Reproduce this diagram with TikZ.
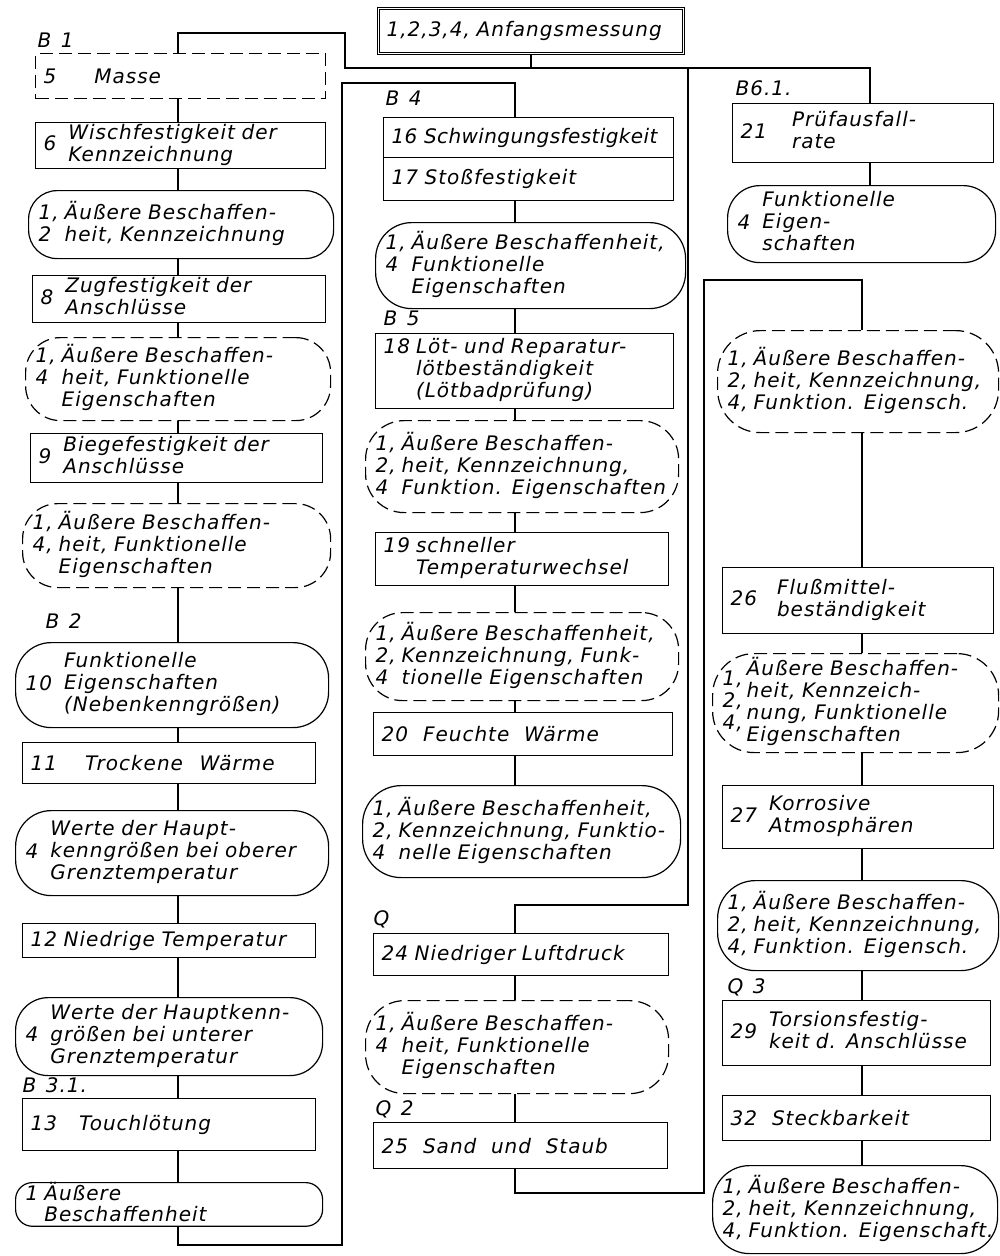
\documentclass[tikz,border=0pt]{standalone}
\usepackage{fontspec}
\setmainfont{DejaVu Sans}[LetterSpace=5, WordSpace=1.3]

\newcommand\numtext[3][12pt]{#2\hspace{#1}\begin{tabular}{@{}l@{}}#3\end{tabular}}
\newcommand\numlines[1]{\begin{tabular}{@{}l@{\hspace{6pt}}l@{}}#1\end{tabular}}

\tikzset{
  test/.style 2 args={draw, anchor=north west, inner xsep=8pt, inner ysep=0pt,
    align=left, text width={#1pt-16pt}, minimum height=#2pt},
  check/.style 2 args={test={#1}{#2}, inner xsep=10pt, text width={#1pt-20pt},
    rounded corners={0.42*#2pt}},
  broken/.style={dash pattern=on 13pt off 6pt},
  tag/.style={anchor=base west, inner sep=0pt},
  link/.style={line width=1.4pt}
}

\begin{document}
\begin{tikzpicture}[x=1pt, y=-1pt, font=\fontsize{20}{22}\selectfont\itshape, line width=1.2pt]
\useasboundingbox (0,0) rectangle (1000,1256);

% columns and corners of the lines
\coordinate (cL) at (178,0);
\coordinate (cM) at (515,0);
\coordinate (cR) at (862,0);
\coordinate (cB) at (870,0);
\coordinate (kL) at (345,33);
\coordinate (bus) at (345,68);
\coordinate (busR) at (870,68);
\coordinate (mR) at (688,905);
\coordinate (lowL) at (342,1245);
\coordinate (topM) at (342,83);
\coordinate (lowM) at (704,1193);
\coordinate (topR) at (704,280);

\node[test={305}{45}, double, double distance=1.2pt] (0) at (378,8) {1,2,3,4, Anfangsmessung};

% left column
\node[tag] (b1) at (37,47) {B 1};
\node[test={290}{45}, broken] (5) at (35,53) {5\hspace{38pt}Masse};
\node[test={290}{46}] (6) at (35,122) {\numtext{6}{Wischfestigkeit der\\Kennzeichnung}};
\node[check={305}{68}] (e6) at (28,190) {\numlines{1, & Äußere Beschaffen-\\2 & heit, Kennzeichnung}};
\node[test={293}{47}] (8) at (32,275) {\numtext{8}{Zugfestigkeit der\\Anschlüsse}};
\node[check={305}{83}, broken] (e8) at (25,337) {\numlines{1, & Äußere Beschaffen-\\4 & heit, Funktionelle\\ & Eigenschaften}};
\node[test={292}{49}] (9) at (30,433) {\numtext{9}{Biegefestigkeit der\\Anschlüsse}};
\node[check={308}{84}, broken] (e9) at (22,503) {\numlines{1, & Äußere Beschaffen-\\4, & heit, Funktionelle\\ & Eigenschaften}};
\node[tag] (b2) at (45,628) {B 2};
\node[check={313}{85}] (10) at (15,642) {\numtext{10}{Funktionelle\\Eigenschaften\\(Nebenkenngrößen)}};
\node[test={293}{41}] (11) at (22,742) {11\hspace{28pt}Trockene\hspace{10pt} Wärme};
\node[check={313}{85}] (e11) at (15,810) {\numtext{4}{Werte der Haupt-\\kenngrößen bei oberer\\Grenztemperatur}};
\node[test={293}{34}] (12) at (22,923) {12 Niedrige Temperatur};
\node[check={307}{78}] (e12) at (15,997) {\numtext{4}{Werte der Hauptkenn-\\größen bei unterer\\Grenztemperatur}};
\node[tag] (b31) at (22,1092) {B 3.1.};
\node[test={293}{52}] (13) at (22,1098) {13\hspace{22pt}Touchlötung};
\node[check={307}{40}, font=\fontsize{20}{17}\selectfont\itshape] (e13) at (15,1182) {\numlines{1 & Äußere\\ & Beschaffenheit}};

% middle column
\node[tag] (b4) at (385,105) {B 4};
\node[test={290}{40}] (16) at (383,117) {\mbox{\addfontfeature{LetterSpace=2}16 Schwingungsfestigkeit}};
\node[test={290}{43}] (17) at (383,157) {17 Stoßfestigkeit};
\node[check={310}{86}] (e17) at (375,222) {\numlines{1, & Äußere Beschaffenheit,\\4 & Funktionelle\\ & Eigenschaften}};
\node[tag] (b5) at (383,325) {B 5};
\node[test={298}{75}] (18) at (375,333) {\numlines{18 & Löt- und Reparatur-\\ & lötbeständigkeit\\ & (Lötbadprüfung)}};
\node[check={313}{92}, broken] (e18) at (365,420) {\numlines{1, & Äußere Beschaffen-\\2, & heit, Kennzeichnung,\\4 & Funktion. Eigenschaften}};
\node[test={293}{53}] (19) at (375,532) {\numlines{19 & schneller\\ & Temperaturwechsel}};
\node[check={313}{88}, broken] (e19) at (365,612) {\numlines{1, & Äußere Beschaffenheit,\\2, & Kennzeichnung, Funk-\\4 & tionelle Eigenschaften}};
\node[test={299}{43}] (20) at (373,712) {20\hspace{15pt}Feuchte\hspace{8pt} Wärme};
\node[check={318}{92}] (e20) at (362,785) {\numlines{1, & Äußere Beschaffenheit,\\2, & Kennzeichnung, Funktio-\\4 & nelle Eigenschaften}};
\node[tag] (q) at (373,925) {Q};
\node[test={295}{42}] (24) at (373,933) {24 Niedriger Luftdruck};
\node[check={303}{93}, broken] (e24) at (365,1000) {\numlines{1, & Äußere Beschaffen-\\4 & heit, Funktionelle\\ & Eigenschaften}};
\node[tag] (q2) at (375,1115) {Q 2};
\node[test={294}{46}] (25) at (373,1122) {25\hspace{15pt}Sand\hspace{8pt} und\hspace{8pt} Staub};

% right column
\node[tag] (b61) at (735,95) {B6.1.};
\node[test={261}{59}] (21) at (732,103) {\numtext[25pt]{21}{Prüfausfall-\\rate}};
\node[check={268}{77}] (e21) at (727,185) {\numtext{4}{Funktionelle\\Eigen-\\schaften}};
\node[check={281}{102}, broken] (e21b) at (717,330) {\numlines{1, & Äußere Beschaffen-\\2, & heit, Kennzeichnung,\\4, & Funktion. Eigensch.}};
\node[test={271}{66}] (26) at (722,567) {\numtext[20pt]{26}{Flußmittel-\\beständigkeit}};
\node[check={286}{99}, broken] (e26) at (712,653) {\numtext[4pt]{\begin{tabular}{@{}l@{}}1,\\2,\\4,\end{tabular}}{Äußere Beschaffen-\\heit, Kennzeich-\\nung, Funktionelle\\Eigenschaften}};
\node[test={271}{63}] (27) at (722,785) {\numtext{27}{Korrosive\\Atmosphären}};
\node[check={281}{90}] (e27) at (717,880) {\numlines{1, & Äußere Beschaffen-\\2, & heit, Kennzeichnung,\\4, & Funktion. Eigensch.}};
\node[tag] (q3) at (727,993) {Q 3};
\node[test={268}{65}] (29) at (722,1000) {\numtext{29}{Torsionsfestig-\\keit d. Anschlüsse}};
\node[test={268}{45}] (32) at (722,1095) {32\hspace{15pt}Steckbarkeit};
\node[check={285}{88}] (e32) at (712,1165) {\numlines{1, & Äußere Beschaffen-\\2, & heit, Kennzeichnung,\\4, & Funktion. Eigenschaft.}};

% start and bus
\path[draw,link] (0.south) -- (0.south |- bus);
\path[draw,link] (5.north -| cL) |- (kL) -- (bus) -- (busR) -- (21.north -| cB);
\path[draw,link] (bus -| mR) -- (mR) -| (24.north -| cM);
\path[draw,link] (e13.south -| cL) |- (lowL) -- (topM) -| (16.north -| cM);
\path[draw,link] (25.south -| cM) |- (lowM) -- (topR) -| (e21b.north -| cR);

\path[draw,link] (5.south -| cL) -- (6.north -| cL);
\path[draw,link] (6.south -| cL) -- (e6.north -| cL);
\path[draw,link] (e6.south -| cL) -- (8.north -| cL);
\path[draw,link] (8.south -| cL) -- (e8.north -| cL);
\path[draw,link] (e8.south -| cL) -- (9.north -| cL);
\path[draw,link] (9.south -| cL) -- (e9.north -| cL);
\path[draw,link] (e9.south -| cL) -- (10.north -| cL);
\path[draw,link] (10.south -| cL) -- (11.north -| cL);
\path[draw,link] (11.south -| cL) -- (e11.north -| cL);
\path[draw,link] (e11.south -| cL) -- (12.north -| cL);
\path[draw,link] (12.south -| cL) -- (e12.north -| cL);
\path[draw,link] (e12.south -| cL) -- (13.north -| cL);
\path[draw,link] (13.south -| cL) -- (e13.north -| cL);

\path[draw,link] (17.south -| cM) -- (e17.north -| cM);
\path[draw,link] (e17.south -| cM) -- (18.north -| cM);
\path[draw,link] (18.south -| cM) -- (e18.north -| cM);
\path[draw,link] (e18.south -| cM) -- (19.north -| cM);
\path[draw,link] (19.south -| cM) -- (e19.north -| cM);
\path[draw,link] (e19.south -| cM) -- (20.north -| cM);
\path[draw,link] (20.south -| cM) -- (e20.north -| cM);
\path[draw,link] (24.south -| cM) -- (e24.north -| cM);
\path[draw,link] (e24.south -| cM) -- (25.north -| cM);

\path[draw,link] (21.south -| cB) -- (e21.north -| cB);
\path[draw,link] (e21b.south -| cR) -- (26.north -| cR);
\path[draw,link] (26.south -| cR) -- (e26.north -| cR);
\path[draw,link] (e26.south -| cR) -- (27.north -| cR);
\path[draw,link] (27.south -| cR) -- (e27.north -| cR);
\path[draw,link] (e27.south -| cR) -- (29.north -| cR);
\path[draw,link] (29.south -| cR) -- (32.north -| cR);
\path[draw,link] (32.south -| cR) -- (e32.north -| cR);
\end{tikzpicture}
\end{document}
